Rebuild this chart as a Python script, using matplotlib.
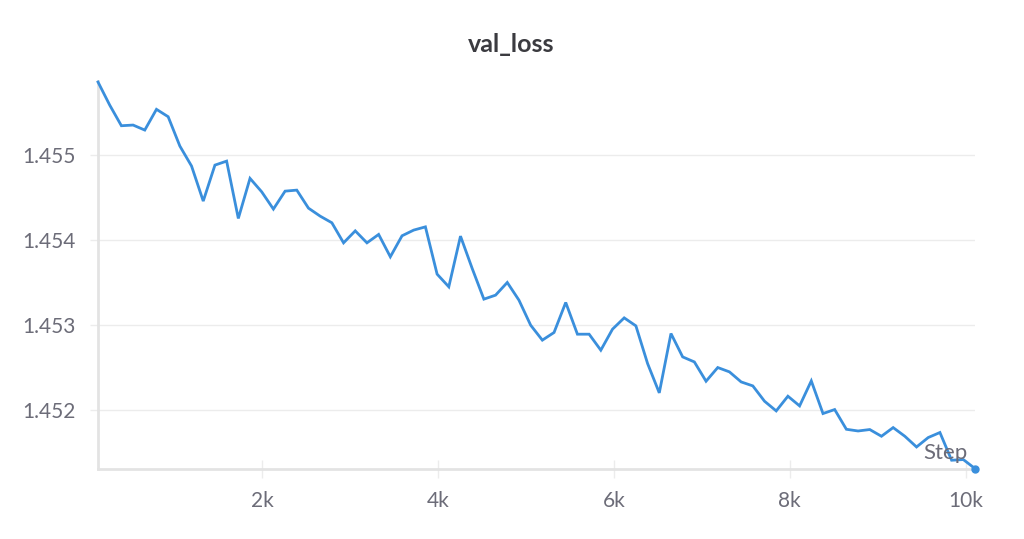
import matplotlib
matplotlib.use("Agg")
import matplotlib.pyplot as plt
from matplotlib.ticker import FixedLocator

title = "val_loss"
x_label = "Step"

steps = [133, 266, 399, 532, 665, 798, 931, 1064, 1197, 1330,
         1463, 1596, 1729, 1862, 1995, 2128, 2261, 2394, 2527, 2660,
         2793, 2926, 3059, 3192, 3325, 3458, 3591, 3724, 3857, 3990,
         4123, 4256, 4389, 4522, 4655, 4788, 4921, 5054, 5187, 5320,
         5453, 5586, 5719, 5852, 5985, 6118, 6251, 6384, 6517, 6650,
         6783, 6916, 7049, 7182, 7315, 7448, 7581, 7714, 7847, 7980,
         8113, 8246, 8379, 8512, 8645, 8778, 8911, 9044, 9177, 9310,
         9443, 9576, 9709, 9842, 9975, 10108]

val_loss = [1.455859, 1.455588, 1.455345, 1.455353, 1.455294, 1.455538, 1.455451, 1.455106,
            1.454871, 1.454459, 1.454882, 1.454929, 1.454255, 1.454726, 1.454568, 1.454365,
            1.454576, 1.454588, 1.454376, 1.454282, 1.454204, 1.453968, 1.454109, 1.453968,
            1.454067, 1.453804, 1.454051, 1.454118, 1.454156, 1.453600, 1.453451, 1.454047,
            1.453667, 1.453306, 1.453353, 1.453502, 1.453294, 1.453000, 1.452824, 1.452914,
            1.453267, 1.452894, 1.452894, 1.452706, 1.452953, 1.453086, 1.452992, 1.452549,
            1.452204, 1.452902, 1.452627, 1.452568, 1.452341, 1.452502, 1.452451, 1.452333,
            1.452286, 1.452106, 1.451992, 1.452165, 1.452051, 1.452345, 1.451961, 1.452008,
            1.451776, 1.451756, 1.451773, 1.451694, 1.451796, 1.451694, 1.451568, 1.451679,
            1.451738, 1.451412, 1.451420, 1.451314]

x_ticks = [2000, 4000, 6000, 8000, 10000]
x_tick_labels = ["2k", "4k", "6k", "8k", "10k"]
y_ticks = [1.452, 1.453, 1.454, 1.455]
y_tick_labels = ["1.452", "1.453", "1.454", "1.455"]

plt.rcParams['font.family'] = ['Lato', 'DejaVu Sans']

W, H = 1024, 539
fig = plt.figure(figsize=(W / 100, H / 100), dpi=100)
left, right, bottom, top = 98, 975, 469, 81
ax = fig.add_axes([left / W, 1 - bottom / H, (right - left) / W, (bottom - top) / H])

line_color = "#3a8fdc"
grid_color = "#ececec"
axis_color = "#e3e3e3"
text_color = "#6c6c78"

ax.plot(steps, val_loss, color=line_color, lw=2.0, solid_joinstyle="miter", zorder=3, clip_on=False)
ax.plot(steps[-1:], val_loss[-1:], 'o', color=line_color, ms=5, zorder=4, clip_on=False)

ax.set_xlim(steps[0], steps[-1])
ax.set_ylim(min(val_loss) - 0.000005, max(val_loss) + 0.000012)

ax.xaxis.set_major_locator(FixedLocator(x_ticks))
ax.set_xticklabels(x_tick_labels)
ax.yaxis.set_major_locator(FixedLocator(y_ticks))
ax.set_yticklabels(y_tick_labels)

for s in ["top", "right"]:
    ax.spines[s].set_visible(False)
for s in ["left", "bottom"]:
    ax.spines[s].set_color(axis_color)
    ax.spines[s].set_linewidth(2.0)

ax.grid(axis="y", color=grid_color, lw=1.0, zorder=0)
ax.tick_params(axis="y", length=6, width=1.0, color=grid_color, pad=10, labelsize=15, labelcolor=text_color)
ax.tick_params(axis="x", direction="inout", length=13, width=1.0, color=grid_color, pad=9, labelsize=15, labelcolor=text_color)

ax.text(0.9915, 0.015, x_label, transform=ax.transAxes, ha="right", va="bottom",
        fontsize=16, color=text_color, zorder=5)

fig.text(511 / W, 1 - 45 / H, title, ha="center", va="center", fontsize=18,
         fontweight="bold", color="#3b3b40")

fig.savefig("out.png", dpi=100, facecolor="white")
